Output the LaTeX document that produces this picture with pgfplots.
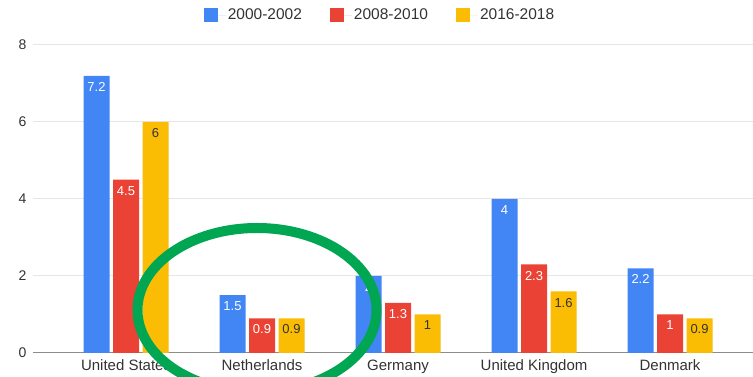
\documentclass[border=0pt]{standalone}
\usepackage{pgfplots}
\pgfplotsset{compat=1.18}
\usepackage{fontspec}
\setmainfont{Liberation Sans}
\definecolor{gblue}{HTML}{4285F4}
\definecolor{gred}{HTML}{EA4335}
\definecolor{gyellow}{HTML}{FBBC04}
\definecolor{ggreen}{HTML}{00A651}
\definecolor{gridc}{HTML}{E6E6E6}
\definecolor{zeroc}{HTML}{8C8C8C}
\definecolor{txt}{HTML}{333333}
\begin{document}
\begin{tikzpicture}
\begin{axis}[
  at={(33pt,24pt)}, anchor=south west,
  scale only axis, width=720pt, height=308pt,
  ybar=3.5pt, bar width=26pt,
  xmin=-0.684, xmax=4.61, ymin=0, ymax=8,
  xtick={0,1,2,3,4},
  xticklabels={United States, Netherlands, Germany, United Kingdom, Denmark},
  ytick={0,2,4,6,8},
  ymajorgrids, grid style={gridc, line width=1pt},
  separate axis lines,
  axis x line*=bottom, axis y line*=left,
  x axis line style={zeroc, line width=1pt, -},
  y axis line style={draw=none},
  major tick length=0pt,
  /pgf/number format/assume math mode=true,
  xticklabel style={font=\fontsize{15}{18}\selectfont, text=txt, yshift=-3pt},
  yticklabel style={font=\fontsize{14}{16}\selectfont, text=txt, xshift=-3pt},
  nodes near coords,
  every node near coord/.append style={font=\fontsize{13}{15}\selectfont, anchor=north, yshift=-3pt},
  legend columns=3,
  legend image code/.code={\fill[#1] (0pt,-7pt) rectangle (14pt,7pt);\path (0pt,0pt) -- (22pt,0pt);},
  legend style={at={(0.482,1.097)}, anchor=center, draw=none, fill=none,
    font=\fontsize{15.5}{18}\selectfont, text=txt,
    /tikz/every even column/.append style={column sep=26pt}},
]
\addplot[fill=gblue, draw=none, every node near coord/.append style={text=white}]
  coordinates {(0,7.2) (1,1.5) (2,2) (3,4) (4,2.2)};
\addplot[fill=gred, draw=none, every node near coord/.append style={text=white}]
  coordinates {(0,4.5) (1,0.9) (2,1.3) (3,2.3) (4,1)};
\addplot[fill=gyellow, draw=none, every node near coord/.append style={text=txt}]
  coordinates {(0,6) (1,0.9) (2,1) (3,1.6) (4,0.9)};
\legend{2000-2002, 2008-2010, 2016-2018}
\end{axis}
\draw[ggreen, line width=10pt] (257pt,67pt) ellipse [x radius=119.5pt, y radius=82pt];
\pgfresetboundingbox
\path[use as bounding box] (0pt,0pt) rectangle (753pt,377pt);
\end{tikzpicture}
\end{document}
